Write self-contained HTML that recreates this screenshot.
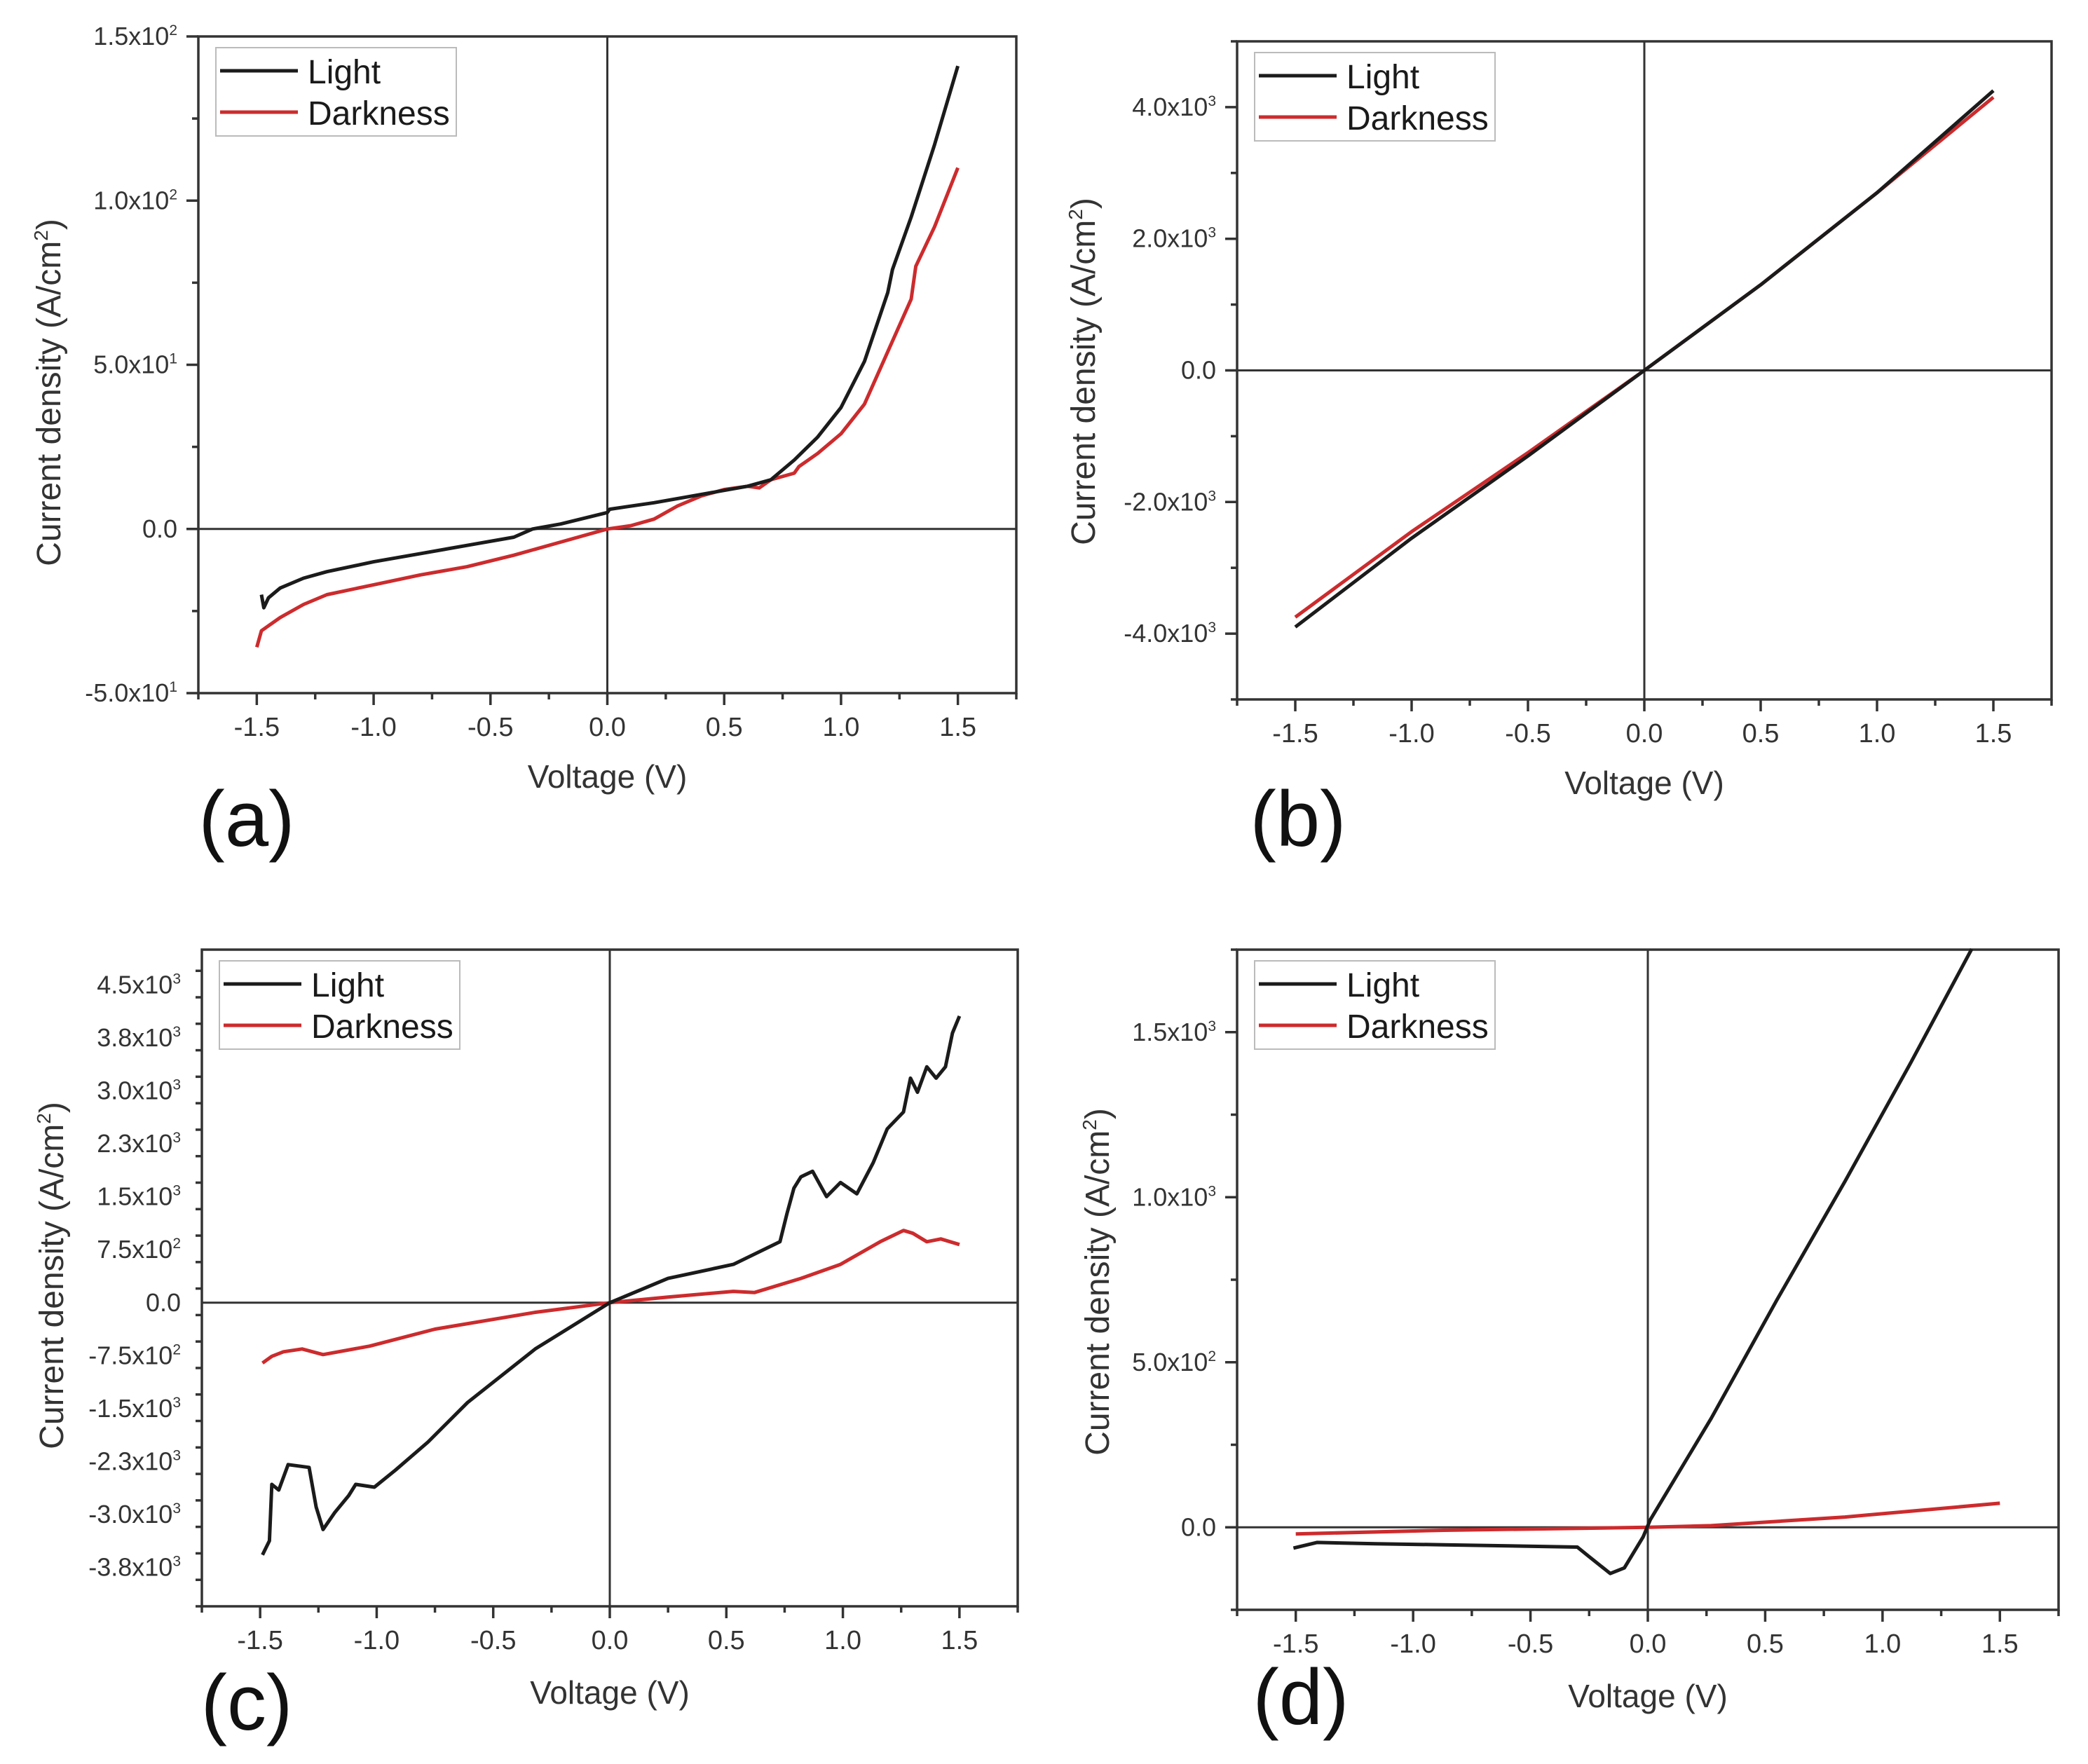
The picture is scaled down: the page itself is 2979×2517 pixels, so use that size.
<!DOCTYPE html>
<html><head><meta charset="utf-8"><style>
html,body{margin:0;padding:0;background:#fff;}
svg{display:block;font-family:"Liberation Sans",Arial,sans-serif;}
</style></head><body>
<svg id="fig" width="2979" height="2517" viewBox="0 0 2979 2517" xmlns="http://www.w3.org/2000/svg"></svg>
<script>
// ---------- Panel (a) data ----------
const aLightV = [-1.48,-1.47,-1.45,-1.4,-1.3,-1.2,-1.0,-0.8,-0.6,-0.4,-0.32,-0.2,0,0.01,0.2,0.4,0.6,0.7,0.8,0.9,1.0,1.1,1.2,1.22,1.3,1.4,1.5];
const aLightJ = [-20,-24,-21,-18,-15,-13,-10,-7.5,-5,-2.5,0,1.5,5,6,8,10.5,13,15,21,28,37,51,72,79,95,117,141];
const aDarkV = [-1.5,-1.48,-1.4,-1.3,-1.2,-1.0,-0.8,-0.6,-0.4,-0.2,0,0.1,0.2,0.3,0.4,0.5,0.6,0.65,0.7,0.8,0.82,0.9,1.0,1.1,1.2,1.3,1.32,1.4,1.5];
const aDarkJ = [-36,-31,-27,-23,-20,-17,-14,-11.5,-8,-4,0,1,3,7,10,12,13,12.5,15,17,19,23,29,38,54,70,80,92,110];
const aYTicks = [-50,0,50,100,150];
const aYMant = ["-5.0","0.0","5.0","1.0","1.5"];
const aYExp = ["1","","1","2","2"];
// ---------- Panel (b) data ----------
const bLightV = [-1.5,-1.0,-0.5,0,0.5,1.0,1.5];
const bLightJ = [-3900,-2550,-1300,0,1300,2700,4250];
const bDarkV = [-1.5,-1.0,-0.5,0,0.5,1.0,1.5];
const bDarkJ = [-3750,-2450,-1250,0,1300,2700,4150];
const bYTicks = [-4000,-2000,0,2000,4000];
const bYMant = ["-4.0","-2.0","0.0","2.0","4.0"];
const bYExp = ["3","3","","3","3"];
// ---------- Panel (c) data ----------
const cLightV = [-1.49,-1.46,-1.45,-1.42,-1.38,-1.29,-1.26,-1.23,-1.18,-1.12,-1.09,-1.01,-0.92,-0.78,-0.61,-0.32,0,0.25,0.53,0.68,0.73,0.76,0.79,0.82,0.87,0.93,0.99,1.06,1.13,1.19,1.26,1.29,1.32,1.36,1.40,1.44,1.47,1.50];
const cLightJ = [-3571,-3372,-2573,-2653,-2293,-2333,-2892,-3212,-2972,-2732,-2573,-2613,-2373,-1974,-1414,-655,0,344,543,783,863,1262,1622,1782,1862,1502,1702,1542,1982,2461,2700,3180,2980,3340,3180,3340,3819,4059];
const cDarkV = [-1.49,-1.45,-1.40,-1.32,-1.23,-1.03,-0.75,-0.32,0,0.25,0.53,0.62,0.82,0.99,1.16,1.26,1.30,1.36,1.42,1.50];
const cDarkJ = [-855,-760,-695,-655,-735,-615,-375,-136,0,80,160,144,344,543,863,1023,983,863,903,823];
const cYTicks = [-3750,-3000,-2250,-1500,-750,0,750,1500,2250,3000,3750,4500];
const cYMant = ["-3.8","-3.0","-2.3","-1.5","-7.5","0.0","7.5","1.5","2.3","3.0","3.8","4.5"];
const cYExp = ["3","3","3","3","2","","2","3","3","3","3","3"];
// ---------- Panel (d) data ----------
const dLightV = [-1.51,-1.41,-1.16,-0.87,-0.30,-0.25,-0.16,-0.10,-0.02,0.01,0.27,0.55,0.84,1.12,1.38];
const dLightJ = [-63,-46,-50,-53,-60,-89,-140,-123,-29,22,330,689,1048,1407,1752];
const dDarkV = [-1.5,-0.87,0,0.27,0.84,1.5];
const dDarkJ = [-20,-9,0,5,31,73];
const dYTicks = [0,500,1000,1500];
const dYMant = ["0.0","5.0","1.0","1.5"];
const dYExp = ["","2","3","3"];
// shared x ticks
const xTicks = [-1.5,-1.0,-0.5,0,0.5,1.0,1.5];
const xTickLabels = ["-1.5","-1.0","-0.5","0.0","0.5","1.0","1.5"];

const NS = "http://www.w3.org/2000/svg";
const svg = document.getElementById('fig');
function mk(tag, attrs, parent){
  const e = document.createElementNS(NS, tag);
  for (const k in attrs) e.setAttribute(k, attrs[k]);
  (parent||svg).appendChild(e);
  return e;
}
const BLACK="#1b1b1b", RED="#cc2b2d";

function panel(p){
  const g = mk('g', {});
  
  
  const X = v => p.L + (v - p.xmin)/(p.xmax - p.xmin)*(p.R - p.L);
  const Y = v => p.B - (v - p.ymin)/(p.ymax - p.ymin)*(p.B - p.T);
  const fr = mk('rect', {x:p.L, y:p.T, width:p.R-p.L, height:p.B-p.T, fill:'none', stroke:'#333', 'stroke-width':3.5}, g);
  
  
  const zx = mk('line', {x1:p.L, x2:p.R, y1:Y(0), y2:Y(0), stroke:'#333', 'stroke-width':3}, g);
  
  
  const zy = mk('line', {x1:X(0), x2:X(0), y1:p.T, y2:p.B, stroke:'#333', 'stroke-width':3}, g);
  
  
  for (let v = -1.75; v <= 1.751; v += 0.25){
    const major = Math.abs(Math.round(v*2) - v*2) < 1e-6;
    mk('line', {x1:X(v), x2:X(v), y1:p.B, y2:p.B+(major?17:9), stroke:'#333', 'stroke-width':3.5}, g);
  }
  xTicks.forEach((v,i)=>{
    const t = mk('text', {x:X(v), y:p.B+61, 'font-size':38, fill:'#333', 'text-anchor':'middle'}, g);
    t.textContent = xTickLabels[i];
    
    
  });
  for (let v = p.ymin; v <= p.ymax + 1e-6; v += p.minor){
    const major = p.yTicks.some(t => Math.abs(t - v) < 1e-6);
    mk('line', {x1:p.L, x2:p.L-(major?17:9), y1:Y(v), y2:Y(v), stroke:'#333', 'stroke-width':3.5}, g);
  }
  p.yTicks.forEach((v,i)=>{
    const t = mk('text', {x:p.L-30, y:Y(v)+12, 'font-size':36, fill:'#333', 'text-anchor':'end'}, g);
    
    
    if (p.yExp[i]) {
      const m = mk('tspan', {}, t); m.textContent = p.yMant[i] + 'x10';
      const s = mk('tspan', {'font-size':21, dy:-14}, t); s.textContent = p.yExp[i];
    } else t.textContent = p.yMant[i];
  });
  const xt = mk('text', {x:(X(0)), y:p.xTitleY, 'font-size':46, fill:'#333', 'text-anchor':'middle'}, g);
  xt.textContent = 'Voltage (V)';
  
  
  const yt = mk('text', {x:0, y:0, 'font-size':48, fill:'#333', 'text-anchor':'middle', transform:`translate(${p.yTitleX},${p.yTitleY}) rotate(-90)`}, g);
  
  
  const y1 = mk('tspan', {}, yt); y1.textContent = 'Current density (A/cm';
  const y2 = mk('tspan', {'font-size':28, dy:-18}, yt); y2.textContent = '2';
  const y3 = mk('tspan', {dy:18}, yt); y3.textContent = ')';
  const pl = mk('text', {x:p.labX, y:p.labY, 'font-size':112, fill:'#111', 'text-anchor':'middle'}, g);
  pl.textContent = '('+p.id+')';
  
  
  function series(V, J, color, name){
    const d = V.map((v,i)=>(i?'L':'M')+X(v).toFixed(1)+' '+Y(J[i]).toFixed(1)).join(' ');
    const path = mk('path', {d, fill:'none', stroke:color, 'stroke-width':5, 'stroke-linejoin':'round'}, g);
    
    
  }
  series(p.darkV, p.darkJ, RED, 'darkness-series');
  series(p.lightV, p.lightJ, BLACK, 'light-series');
  const lg = mk('g', {}, g);
  
  
  const lx = p.L + 25, ly = p.T + 16;
  mk('rect', {x:lx, y:ly, width:343, height:126, fill:'#fff', stroke:'#bbb', 'stroke-width':2}, lg);
  mk('line', {x1:lx+6, x2:lx+117, y1:ly+33, y2:ly+33, stroke:BLACK, 'stroke-width':5}, lg);
  mk('line', {x1:lx+6, x2:lx+117, y1:ly+92, y2:ly+92, stroke:RED, 'stroke-width':5}, lg);
  const t1 = mk('text', {x:lx+131, y:ly+51, 'font-size':48, fill:'#1a1a1a'}, lg);
  t1.textContent = 'Light';
  
  
  const t2 = mk('text', {x:lx+131, y:ly+110, 'font-size':48, fill:'#1a1a1a'}, lg);
  t2.textContent = 'Darkness';
  
  
}

panel({id:'a', L:283, R:1450, T:52, B:989, xmin:-1.75, xmax:1.75, ymin:-50, ymax:150, minor:25,
  yTicks:aYTicks, yMant:aYMant, yExp:aYExp, lightV:aLightV, lightJ:aLightJ, darkV:aDarkV, darkJ:aDarkJ,
  xTitleY:1124, yTitleX:86, yTitleY:560, labX:352, labY:1207});
panel({id:'b', L:1765, R:2927, T:59, B:998, xmin:-1.75, xmax:1.75, ymin:-5000, ymax:5000, minor:1000,
  yTicks:bYTicks, yMant:bYMant, yExp:bYExp, lightV:bLightV, lightJ:bLightJ, darkV:bDarkV, darkJ:bDarkJ,
  xTitleY:1133, yTitleX:1562, yTitleY:530, labX:1852, labY:1207});
panel({id:'c', L:288, R:1452, T:1355, B:2292, xmin:-1.75, xmax:1.75, ymin:-4300, ymax:5000, minor:375,
  yTicks:cYTicks, yMant:cYMant, yExp:cYExp, lightV:cLightV, lightJ:cLightJ, darkV:cDarkV, darkJ:cDarkJ,
  xTitleY:2431, yTitleX:90, yTitleY:1820, labX:352, labY:2468});
panel({id:'d', L:1765, R:2937, T:1355, B:2297, xmin:-1.75, xmax:1.75, ymin:-250, ymax:1750, minor:250,
  yTicks:dYTicks, yMant:dYMant, yExp:dYExp, lightV:dLightV, lightJ:dLightJ, darkV:dDarkV, darkJ:dDarkJ,
  xTitleY:2436, yTitleX:1582, yTitleY:1829, labX:1856, labY:2460});
</script>
</body></html>
